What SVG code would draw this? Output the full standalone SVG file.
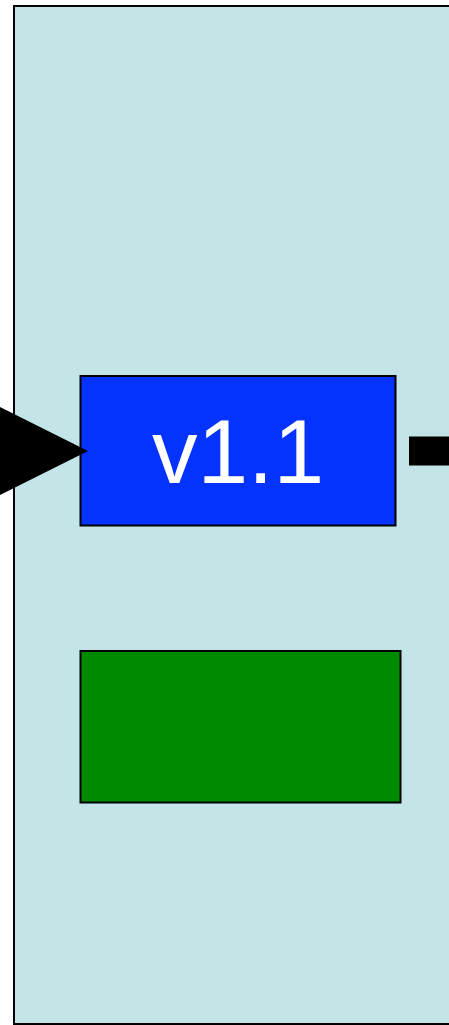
<svg xmlns="http://www.w3.org/2000/svg" width="449" height="1025" viewBox="0 0 449 1025">
<style>
.box{stroke:#000;stroke-width:2}
.lbl{font-family:"Liberation Sans",Arial,sans-serif;fill:#fff;text-anchor:middle}
</style>
<g id="container">
<rect x="14" y="6" width="460" height="1018" fill="#c4e5e8" stroke="#000" stroke-width="2"/>
</g>
<g id="node-v11">
<rect class="box" x="80.5" y="376" width="315" height="149.5" fill="#0433ff"/>
<text class="lbl" x="238" y="482.5" font-size="91">v1.1</text>
</g>
<g id="node-green">
<rect class="box" x="80.5" y="651" width="320" height="151.5" fill="#008a00"/>
</g>
<g id="connectors">
<polygon points="88,451 -12,401 -12,501" fill="#000"/>
<rect x="409" y="436.5" width="45" height="29" fill="#000"/>
</g>
</svg>
